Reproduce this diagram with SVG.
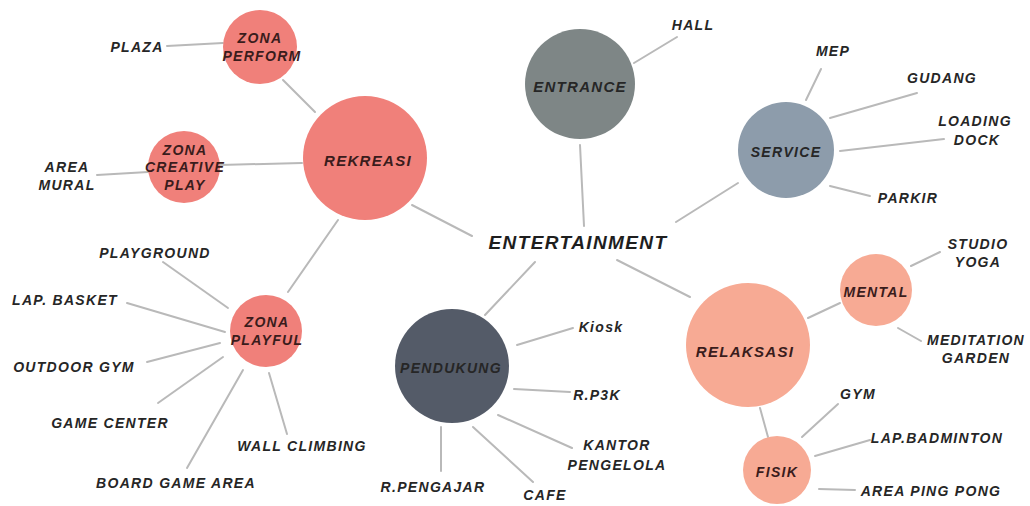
<svg xmlns="http://www.w3.org/2000/svg" width="1030" height="506" viewBox="0 0 1030 506">
<style>
.ln{stroke:#b9b9b9;stroke-width:2;fill:none;stroke-linecap:round}
.t{font-family:"Liberation Sans",Arial,sans-serif;font-weight:bold;font-style:italic;font-size:14px;letter-spacing:1.3px;fill:#262626;text-anchor:middle;dominant-baseline:central}
.big{font-size:15px}
.main{font-size:19px;font-weight:bold;letter-spacing:1.4px;fill:#1e1e1e}
.red{fill:#f0807a}
.peach{fill:#f7aa94}
.in{fill:#3a1c1c}
</style>
<rect width="1030" height="506" fill="#ffffff"/>
<g id="connectors">
<line class="ln" x1="167" y1="46" x2="223" y2="43"/>
<line class="ln" x1="283" y1="80" x2="315" y2="112"/>
<line class="ln" x1="97" y1="175" x2="148" y2="172"/>
<line class="ln" x1="220" y1="165" x2="302" y2="163"/>
<line class="ln" x1="338" y1="220" x2="288" y2="292"/>
<line class="ln" x1="412" y1="205" x2="472" y2="236"/>
<line class="ln" x1="580" y1="145" x2="584" y2="226"/>
<line class="ln" x1="634" y1="63" x2="677" y2="37"/>
<line class="ln" x1="676" y1="222" x2="738" y2="183"/>
<line class="ln" x1="806" y1="100" x2="821" y2="69"/>
<line class="ln" x1="830" y1="118" x2="917" y2="93"/>
<line class="ln" x1="840" y1="151" x2="944" y2="139"/>
<line class="ln" x1="830" y1="186" x2="870" y2="196"/>
<line class="ln" x1="617" y1="260" x2="690" y2="297"/>
<line class="ln" x1="808" y1="318" x2="840" y2="303"/>
<line class="ln" x1="911" y1="266" x2="940" y2="252"/>
<line class="ln" x1="898" y1="328" x2="921" y2="341"/>
<line class="ln" x1="760" y1="408" x2="768" y2="437"/>
<line class="ln" x1="802" y1="437" x2="838" y2="404"/>
<line class="ln" x1="815" y1="456" x2="870" y2="440"/>
<line class="ln" x1="819" y1="489" x2="855" y2="490"/>
<line class="ln" x1="535" y1="262" x2="485" y2="315"/>
<line class="ln" x1="517" y1="345" x2="573" y2="328"/>
<line class="ln" x1="514" y1="389" x2="570" y2="392"/>
<line class="ln" x1="498" y1="415" x2="572" y2="448"/>
<line class="ln" x1="473" y1="427" x2="533" y2="482"/>
<line class="ln" x1="441" y1="427" x2="441" y2="471"/>
<line class="ln" x1="163" y1="262" x2="228" y2="308"/>
<line class="ln" x1="127" y1="303" x2="225" y2="332"/>
<line class="ln" x1="147" y1="362" x2="220" y2="343"/>
<line class="ln" x1="158" y1="403" x2="223" y2="357"/>
<line class="ln" x1="187" y1="468" x2="243" y2="370"/>
<line class="ln" x1="269" y1="373" x2="287" y2="434"/>
</g>
<g id="node-entertainment"><text class="t main" x="578" y="242">ENTERTAINMENT</text></g>
<g id="node-rekreasi"><circle class="red" cx="365" cy="158" r="62"/><text class="t big in" x="368" y="160">REKREASI</text></g>
<g id="node-zona-perform"><circle class="red" cx="260" cy="47" r="37"/><text class="t in" x="260" y="38">ZONA</text><text class="t in" x="262" y="56">PERFORM</text></g>
<g id="node-plaza"><text class="t" x="137" y="47">PLAZA</text></g>
<g id="node-zona-creative"><circle class="red" cx="184" cy="167" r="36"/><text class="t in" x="185" y="150">ZONA</text><text class="t in" x="185" y="167">CREATIVE</text><text class="t in" x="185" y="185">PLAY</text></g>
<g id="node-area-mural"><text class="t" x="67" y="167">AREA</text><text class="t" x="67" y="185">MURAL</text></g>
<g id="node-zona-playful"><circle class="red" cx="266" cy="331" r="36"/><text class="t in" x="267" y="322">ZONA</text><text class="t in" x="267" y="340">PLAYFUL</text></g>
<g id="node-playground"><text class="t" x="155" y="253">PLAYGROUND</text></g>
<g id="node-lap-basket"><text class="t" x="65" y="300">LAP. BASKET</text></g>
<g id="node-outdoor-gym"><text class="t" x="74" y="367">OUTDOOR GYM</text></g>
<g id="node-game-center"><text class="t" x="110" y="423">GAME CENTER</text></g>
<g id="node-board-game"><text class="t" x="176" y="483">BOARD GAME AREA</text></g>
<g id="node-wall-climbing"><text class="t" x="302" y="446">WALL CLIMBING</text></g>
<g id="node-entrance"><circle cx="580" cy="84" r="55" fill="#7e8686"/><text class="t big" x="580" y="86">ENTRANCE</text></g>
<g id="node-hall"><text class="t" x="693" y="25">HALL</text></g>
<g id="node-service"><circle cx="786" cy="150" r="48" fill="#8d9cab"/><text class="t" x="786" y="152">SERVICE</text></g>
<g id="node-mep"><text class="t" x="833" y="51">MEP</text></g>
<g id="node-gudang"><text class="t" x="942" y="78">GUDANG</text></g>
<g id="node-loading-dock"><text class="t" x="975" y="121">LOADING</text><text class="t" x="977" y="140">DOCK</text></g>
<g id="node-parkir"><text class="t" x="908" y="198">PARKIR</text></g>
<g id="node-relaksasi"><circle class="peach" cx="748" cy="345" r="62"/><text class="t big in" x="745" y="351">RELAKSASI</text></g>
<g id="node-mental"><circle class="peach" cx="876" cy="290" r="36"/><text class="t in" x="876" y="292">MENTAL</text></g>
<g id="node-studio-yoga"><text class="t" x="978" y="244">STUDIO</text><text class="t" x="978" y="262">YOGA</text></g>
<g id="node-meditation"><text class="t" x="976" y="340">MEDITATION</text><text class="t" x="976" y="358">GARDEN</text></g>
<g id="node-fisik"><circle class="peach" cx="777" cy="470" r="34"/><text class="t in" x="777" y="472">FISIK</text></g>
<g id="node-gym"><text class="t" x="858" y="394">GYM</text></g>
<g id="node-badminton"><text class="t" x="937" y="438">LAP.BADMINTON</text></g>
<g id="node-ping-pong"><text class="t" x="931" y="491">AREA PING PONG</text></g>
<g id="node-pendukung"><circle cx="452" cy="366" r="57" fill="#545b68"/><text class="t" x="451" y="368">PENDUKUNG</text></g>
<g id="node-kiosk"><text class="t" x="601" y="327">Kiosk</text></g>
<g id="node-rp3k"><text class="t" x="597" y="395">R.P3K</text></g>
<g id="node-kantor"><text class="t" x="617" y="445">KANTOR</text><text class="t" x="617" y="465">PENGELOLA</text></g>
<g id="node-cafe"><text class="t" x="545" y="495">CAFE</text></g>
<g id="node-pengajar"><text class="t" x="433" y="487">R.PENGAJAR</text></g>
</svg>
